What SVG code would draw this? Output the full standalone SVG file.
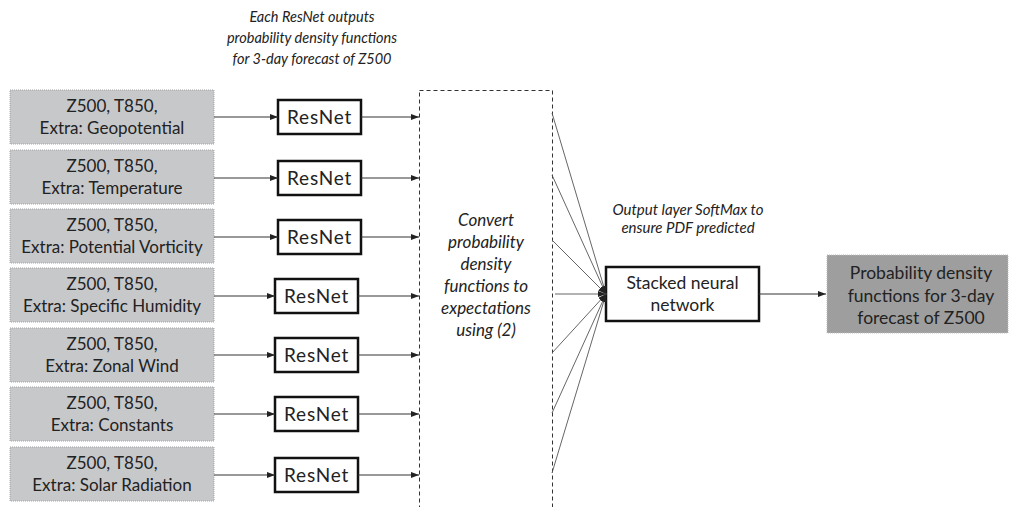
<svg xmlns="http://www.w3.org/2000/svg" width="1009" height="507" viewBox="0 0 1009 507">
<defs>
<marker id="ah" viewBox="0 0 8 6" refX="8" refY="3" markerWidth="8" markerHeight="6" markerUnits="userSpaceOnUse" orient="auto">
<path d="M0,0 L8,3 L0,6 z" fill="#222"/>
</marker>
<style>
.in{fill:#c7c8ca;stroke:#a3a3a3;stroke-width:1;stroke-dasharray:1 1}
.out{fill:#9e9e9e;stroke:#bdbdbd;stroke-width:1;stroke-dasharray:1 1}
.rn{fill:#fff;stroke:#111;stroke-width:2.5}
.t{font-family:Lato,"Liberation Sans",sans-serif;fill:#222;text-anchor:middle}
.bx{font-size:17px}
.rt{font-size:19px;letter-spacing:0.8px}
.it{font-style:italic}
.ln{stroke:#333;stroke-width:1;fill:none}
.cv{stroke:#555;stroke-width:0.9;fill:none}
</style>
</defs>
<rect width="1009" height="507" fill="#fff"/>

<g id="note-top">
<text class="t it" font-size="14.5" x="312" y="22">Each ResNet outputs</text>
<text class="t it" font-size="14.5" x="312" y="43">probability density functions</text>
<text class="t it" font-size="14.5" x="312" y="64">for 3-day forecast of Z500</text>
</g>

<g id="in1"><rect class="in" x="10" y="90" width="204" height="54"/><text class="t bx" x="112" y="112">Z500, T850,</text><text class="t bx" x="112" y="134">Extra: Geopotential</text></g>
<g id="in2"><rect class="in" x="10" y="150" width="204" height="54"/><text class="t bx" x="112" y="172">Z500, T850,</text><text class="t bx" x="112" y="194">Extra: Temperature</text></g>
<g id="in3"><rect class="in" x="10" y="209" width="204" height="54"/><text class="t bx" x="112" y="231">Z500, T850,</text><text class="t bx" x="112" y="253">Extra: Potential Vorticity</text></g>
<g id="in4"><rect class="in" x="10" y="268" width="204" height="54"/><text class="t bx" x="112" y="290">Z500, T850,</text><text class="t bx" x="112" y="312">Extra: Specific Humidity</text></g>
<g id="in5"><rect class="in" x="10" y="328" width="204" height="54"/><text class="t bx" x="112" y="350">Z500, T850,</text><text class="t bx" x="112" y="372">Extra: Zonal Wind</text></g>
<g id="in6"><rect class="in" x="10" y="387" width="204" height="54"/><text class="t bx" x="112" y="409">Z500, T850,</text><text class="t bx" x="112" y="431">Extra: Constants</text></g>
<g id="in7"><rect class="in" x="10" y="447" width="204" height="54"/><text class="t bx" x="112" y="469">Z500, T850,</text><text class="t bx" x="112" y="491">Extra: Solar Radiation</text></g>

<g id="rn1"><rect class="rn" x="278" y="100" width="83" height="34"/><text class="t rt" x="319.5" y="124">ResNet</text></g>
<g id="rn2"><rect class="rn" x="278" y="161" width="83" height="34"/><text class="t rt" x="319.5" y="185">ResNet</text></g>
<g id="rn3"><rect class="rn" x="278" y="220" width="83" height="34"/><text class="t rt" x="319.5" y="244">ResNet</text></g>
<g id="rn4"><rect class="rn" x="275" y="279" width="83" height="34"/><text class="t rt" x="316.5" y="303">ResNet</text></g>
<g id="rn5"><rect class="rn" x="275" y="338" width="83" height="34"/><text class="t rt" x="316.5" y="362">ResNet</text></g>
<g id="rn6"><rect class="rn" x="275" y="397" width="83" height="34"/><text class="t rt" x="316.5" y="421">ResNet</text></g>
<g id="rn7"><rect class="rn" x="275" y="458" width="83" height="34"/><text class="t rt" x="316.5" y="482">ResNet</text></g>

<g id="convert">
<rect x="419.5" y="90.5" width="133" height="430" fill="none" stroke="#333" stroke-width="1" stroke-dasharray="4 3"/>
<text class="t it" font-size="17" x="486" y="226">Convert</text>
<text class="t it" font-size="17" x="486" y="248">probability</text>
<text class="t it" font-size="17" x="486" y="270">density</text>
<text class="t it" font-size="17" x="486" y="292">functions to</text>
<text class="t it" font-size="17" x="486" y="314">expectations</text>
<text class="t it" font-size="17" x="486" y="336">using (2)</text>
</g>

<g id="note-softmax">
<text class="t it" font-size="15" x="688" y="215">Output layer SoftMax to</text>
<text class="t it" font-size="15" x="688" y="233">ensure PDF predicted</text>
</g>

<g id="stacked"><rect class="rn" x="606" y="267" width="153" height="54"/><text class="t" font-size="17.5" x="682.5" y="289">Stacked neural</text><text class="t" font-size="17.5" x="682.5" y="311">network</text></g>

<g id="output"><rect class="out" x="827" y="255" width="181" height="78"/>
<text class="t" font-size="17.5" x="921" y="279">Probability density</text>
<text class="t" font-size="17.5" x="921" y="302">functions for 3-day</text>
<text class="t" font-size="17.5" x="921" y="324">forecast of Z500</text>
</g>

<g id="connectors">
<line class="ln" x1="214" y1="117" x2="278" y2="117" marker-end="url(#ah)"/>
<line class="ln" x1="214" y1="178" x2="278" y2="178" marker-end="url(#ah)"/>
<line class="ln" x1="214" y1="237" x2="278" y2="237" marker-end="url(#ah)"/>
<line class="ln" x1="214" y1="296" x2="275" y2="296" marker-end="url(#ah)"/>
<line class="ln" x1="214" y1="355" x2="275" y2="355" marker-end="url(#ah)"/>
<line class="ln" x1="214" y1="414" x2="275" y2="414" marker-end="url(#ah)"/>
<line class="ln" x1="214" y1="475" x2="275" y2="475" marker-end="url(#ah)"/>
<line class="ln" x1="361" y1="117" x2="419" y2="117" marker-end="url(#ah)"/>
<line class="ln" x1="361" y1="178" x2="419" y2="178" marker-end="url(#ah)"/>
<line class="ln" x1="361" y1="237" x2="419" y2="237" marker-end="url(#ah)"/>
<line class="ln" x1="358" y1="296" x2="419" y2="296" marker-end="url(#ah)"/>
<line class="ln" x1="358" y1="355" x2="419" y2="355" marker-end="url(#ah)"/>
<line class="ln" x1="358" y1="414" x2="419" y2="414" marker-end="url(#ah)"/>
<line class="ln" x1="358" y1="475" x2="419" y2="475" marker-end="url(#ah)"/>
<line class="cv" x1="552" y1="113" x2="606" y2="294" marker-end="url(#ah)"/>
<line class="cv" x1="552" y1="175" x2="606" y2="294" marker-end="url(#ah)"/>
<line class="cv" x1="552" y1="240" x2="606" y2="294" marker-end="url(#ah)"/>
<line class="cv" x1="555" y1="294" x2="606" y2="294" marker-end="url(#ah)"/>
<line class="cv" x1="552" y1="353" x2="606" y2="294" marker-end="url(#ah)"/>
<line class="cv" x1="552" y1="413" x2="606" y2="294" marker-end="url(#ah)"/>
<line class="cv" x1="552" y1="473" x2="606" y2="294" marker-end="url(#ah)"/>
<line class="ln" x1="759" y1="294" x2="826" y2="294" marker-end="url(#ah)"/>
</g>
</svg>
